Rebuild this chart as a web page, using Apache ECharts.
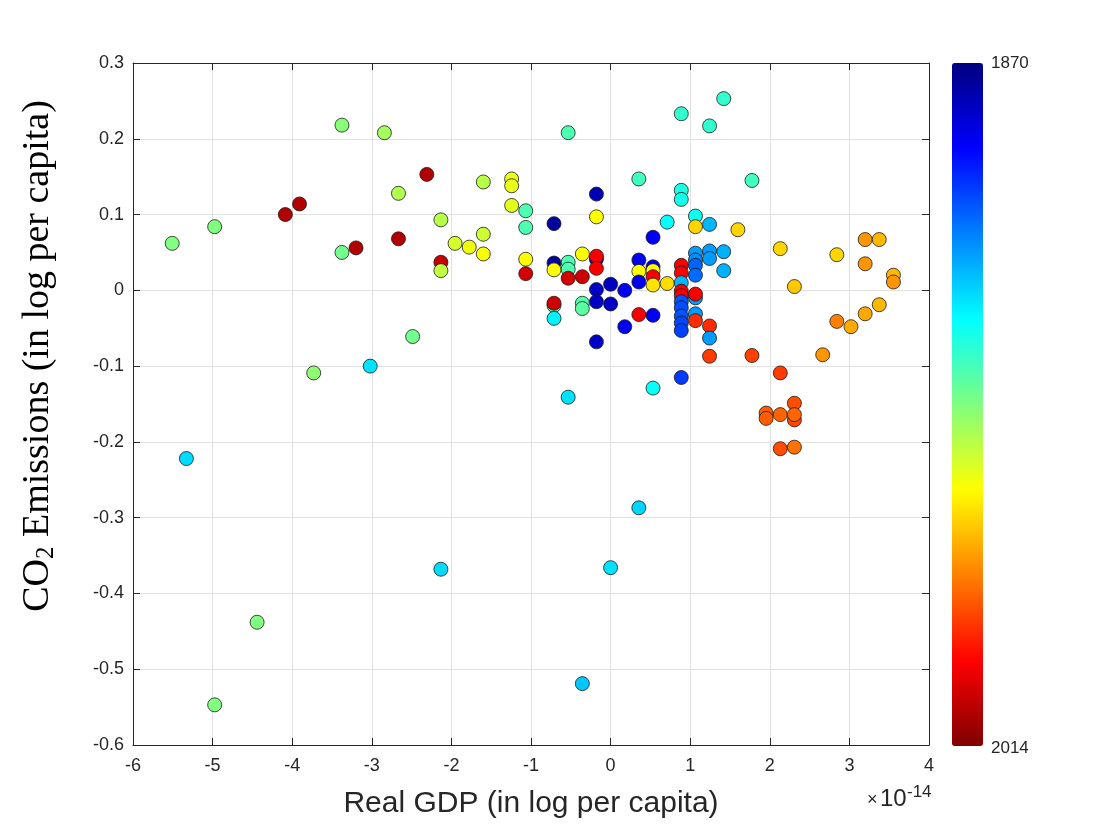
<!DOCTYPE html>
<html>
<head>
<meta charset="utf-8">
<script src="https://cdn.jsdelivr.net/npm/echarts@6/dist/echarts.min.js"></script>
<style>
html,body{margin:0;padding:0;background:#fff;}
#chart{width:1120px;height:840px;}
</style>
</head>
<body>
<div id="chart"></div>
<script>
// Real GDP (in log per capita), units of 1e-14
const gdp = [
 -5.507,-4.974,-5.329,-4.974,-4.441,-4.086,-3.908,-3.375,-3.375,-3.730,
 -3.198,-3.020,-2.842,-2.665,-2.665,-2.487,-2.309,-2.132,-2.132,-2.132,
 -2.132,-1.954,-1.776,-1.599,-1.599,-1.599,-1.243,-1.243,-1.243,-1.066,
 -1.066,-1.066,-1.066,
 -0.533,0.888,1.421,1.243,0.355,1.776,0.888,0.888,-0.178,-0.178,
 -0.711,0.711,1.066,1.066,1.243,1.599,0.533,2.132,-0.711,-0.711,
 -0.533,-0.533,-0.355,-0.533,-0.355,-0.178,-0.178,-0.178,-0.178,-0.178,
 -0.178,0,0,0.178,0.178,0.355,0.355,0.355,0.355,0.533,
 0.533,0.533,0.533,0.533,0.711,0.888,0.888,0.888,0.888,0.888,
 0.888,0.888,0.888,0.888,0.888,0.888,1.066,1.066,1.066,1.066,
 1.066,1.066,1.066,1.066,1.243,1.243,1.243,1.243,1.243,1.421,
 1.421,1.776,0.533,-0.711,-0.711,-0.711,-0.355,-0.355,-0.533,0.355,
 0,-0.355,
 2.309,2.842,3.198,3.375,3.198,3.553,3.553,3.375,3.198,2.842,
 3.020,2.665,2.132,1.954,1.954,2.132,2.309,2.309,2.309,2.132,2.309
];
// CO2 Emissions (in log per capita)
const co2 = [
 0.062,0.084,-0.222,-0.547,-0.438,0.100,0.114,0.218,0.050,-0.109,
 0.056,-0.100,0.208,0.128,0.068,-0.061,0.153,0.093,0.037,0.026,
 -0.368,0.062,0.057,0.074,0.048,0.143,0.147,0.138,0.112,0.105,
 0.083,0.041,0.022,
 0.208,0.233,0.253,0.217,0.147,0.145,0.132,0.120,0.127,0.097,
 0.088,0.090,0.098,0.084,0.087,0.080,0.070,0.055,0.036,0.027,
 0.037,0.028,0.048,0.016,0.018,0.041,0.045,0.029,0.001,-0.015,
 -0.068,0.008,-0.018,0.000,-0.048,0.040,0.025,0.011,-0.032,0.031,
 0.026,0.018,0.007,-0.033,0.009,0.033,0.023,0.010,-0.001,-0.007,
 -0.015,-0.023,-0.034,-0.043,-0.053,-0.115,0.049,0.040,0.033,0.020,
 -0.010,-0.005,-0.031,-0.040,0.052,0.042,-0.047,-0.063,-0.087,0.051,
 0.026,-0.086,-0.129,-0.020,-0.017,-0.037,-0.017,-0.024,-0.141,-0.287,
 -0.366,-0.519,
 0.005,0.047,0.067,0.067,0.035,0.020,0.011,-0.019,-0.031,-0.041,
 -0.048,-0.085,-0.109,-0.162,-0.169,-0.164,-0.149,-0.171,-0.164,-0.209,-0.207
];
// Year (colour)
const year = [
 1942,1942,1919,1942,1942,2007,2007,1943,1940,1944,
 2007,1920,1947,1949,2007,1940,2007,1950,2004,1951,
 1919,1954,1958,1953,1959,1950,1957,1957,1956,1935,
 1935,1960,2002,
 1935,1931,1931,1931,1933,1933,1928,1927,1877,1960,
 1874,1924,1926,1966,1914,1966,1888,1966,1875,1960,
 1935,1935,1960,2002,2003,1879,1997,1997,1880,1880,
 1880,1879,1880,1886,1886,1886,1960,1885,1997,1885,
 1960,1997,1964,1887,1965,1997,1996,1914,1997,1997,
 1900,1899,1900,1898,1897,1896,1910,1908,1902,1903,
 1910,1997,1910,1990,1910,1910,1990,1910,1988,1913,
 1913,1987,1925,1935,2003,1922,1936,1937,1920,1918,
 1920,1916,
 1968,1966,1975,1970,1975,1970,1975,1970,1972,1978,
 1972,1975,1988,1983,1983,1982,1985,1986,1982,1985,1980
];
const xTicks = [-6,-5,-4,-3,-2,-1,0,1,2,3,4];
const yTicks = [-0.6,-0.5,-0.4,-0.3,-0.2,-0.1,0,0.1,0.2,0.3];
const yearRange = [1870, 2014];

const points = gdp.map((g, i) => [g, co2[i], year[i]]);
const jet = ['#000080','#0000ff','#0080ff','#00ffff','#80ff80','#ffff00','#ff8000','#ff0000','#800000'];
const axisColor = '#262626';
const gridColor = '#e1e1e1';
const sans = 'Liberation Sans, Helvetica, Arial, sans-serif';

const chart = echarts.init(document.getElementById('chart'), null, {renderer: 'canvas'});
const fmtY = v => { const r = Math.round(v * 10) / 10; return r === 0 ? '0' : r.toFixed(1); };
const baseX = {
  type: 'value', min: xTicks[0], max: xTicks[xTicks.length - 1], interval: 1,
  axisLine: {show: true, onZero: false, lineStyle: {color: axisColor, width: 1}},
  axisTick: {show: true, inside: true, length: 7, lineStyle: {color: axisColor}}
};
const baseY = {
  type: 'value', min: yTicks[0], max: yTicks[yTicks.length - 1], interval: 0.1,
  axisLine: {show: true, onZero: false, lineStyle: {color: axisColor, width: 1}},
  axisTick: {show: true, inside: true, length: 7, lineStyle: {color: axisColor}}
};
chart.setOption({
  backgroundColor: '#ffffff',
  animation: false,
  grid: {left: 133, top: 63, width: 796, height: 682, containLabel: false},
  xAxis: [
    Object.assign({}, baseX, {
      position: 'bottom',
      axisLabel: {color: axisColor, fontSize: 18, fontFamily: sans, margin: 12},
      splitLine: {show: true, lineStyle: {color: gridColor, width: 1}},
      name: 'Real GDP (in log per capita)', nameLocation: 'middle', nameGap: 44,
      nameTextStyle: {color: axisColor, fontSize: 30, fontFamily: sans}
    }),
    Object.assign({}, baseX, {position: 'top', axisLabel: {show: false}, splitLine: {show: false}})
  ],
  yAxis: [
    Object.assign({}, baseY, {
      position: 'left',
      axisLabel: {color: axisColor, fontSize: 18, fontFamily: sans, margin: 9, formatter: fmtY},
      splitLine: {show: true, lineStyle: {color: gridColor, width: 1}}
    }),
    Object.assign({}, baseY, {position: 'right', axisLabel: {show: false}, splitLine: {show: false}})
  ],
  visualMap: {
    type: 'continuous', min: yearRange[0], max: yearRange[1], dimension: 2,
    inverse: true, orient: 'vertical', calculable: false, hoverLink: false,
    left: 952, top: 63, itemWidth: 31, itemHeight: 683, padding: 0,
    seriesIndex: 0,
    inRange: {color: jet}
  },
  series: [{
    type: 'scatter', xAxisIndex: 0, yAxisIndex: 0,
    symbol: 'circle', symbolSize: 14,
    itemStyle: {borderColor: '#1a1a1a', borderWidth: 0.8, opacity: 1},
    data: points
  }],
  graphic: [
    {type: 'text', x: 991, y: 63, style: {text: String(yearRange[0]), fill: axisColor, font: '17px ' + sans, verticalAlign: 'middle', align: 'left'}},
    {type: 'text', x: 991, y: 748, style: {text: String(yearRange[1]), fill: axisColor, font: '17px ' + sans, verticalAlign: 'middle', align: 'left'}},
    {type: 'text', x: 867, y: 809, style: {text: '\u00d7', fill: axisColor, font: '18px ' + sans, verticalAlign: 'bottom', align: 'left'}},
    {type: 'text', x: 880, y: 811, style: {text: '10', fill: axisColor, font: '24px ' + sans, verticalAlign: 'bottom', align: 'left'}},
    {type: 'text', x: 907, y: 801, style: {text: '-14', fill: axisColor, font: '17px ' + sans, verticalAlign: 'bottom', align: 'left'}},
    {type: 'text', x: 38, y: 356, rotation: Math.PI / 2,
     style: {text: 'CO{s|2} Emissions (in log per capita)', fill: '#000',
       font: '38px "Liberation Serif", "Times New Roman", serif',
       align: 'center', verticalAlign: 'middle',
       rich: {s: {fontSize: 25, fontFamily: 'Liberation Serif', padding: [16, 0, 0, 0], fill: '#000'}}}}
  ]
});
</script>
</body>
</html>
